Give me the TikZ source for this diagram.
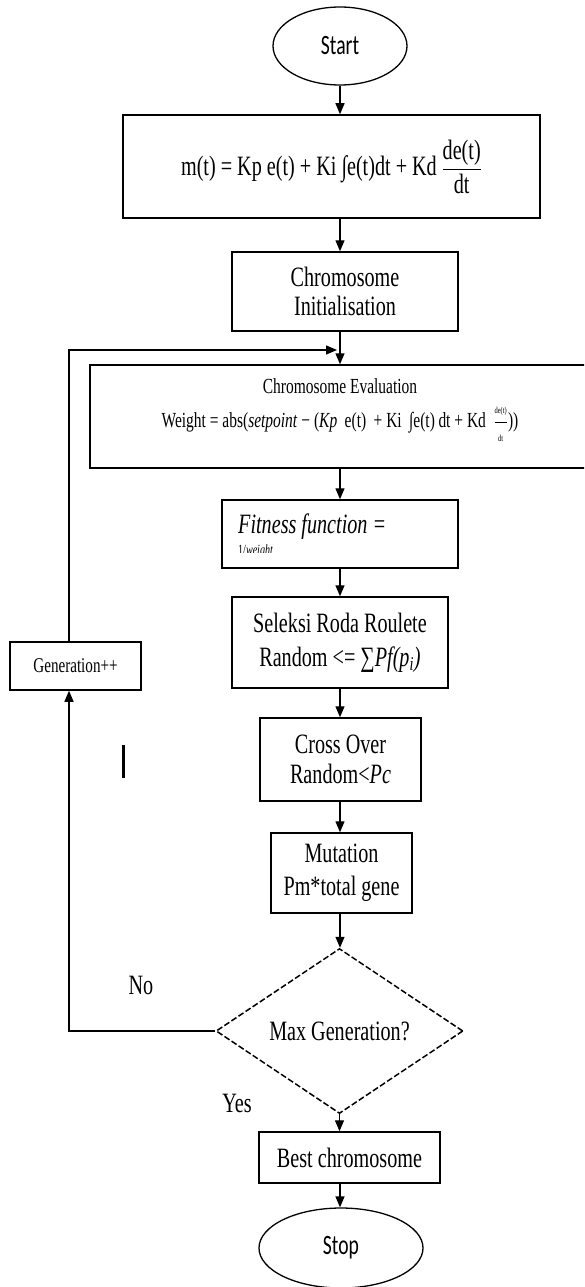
\documentclass[tikz,border=0pt]{standalone}
\usepackage{amsmath}
\usepackage{fontspec}
\setmainfont[FakeStretch=0.72]{Liberation Serif}
\newfontfamily\calfont[FakeStretch=0.7]{Carlito}
\usetikzlibrary{shapes.geometric,arrows.meta}
\begin{document}
\begin{tikzpicture}[x=1pt,y=-1pt,
  box/.style={draw, line width=1.5pt, rectangle, inner sep=0pt, align=center,
    font=\fontsize{28}{32}\selectfont},
  ell/.style={draw, line width=1.3pt, ellipse, inner sep=0pt,
    font=\calfont\fontsize{28}{32}\selectfont},
  arr/.style={line width=1.3pt, -{Triangle[length=11pt,width=9pt]}},
  decision/.style={draw, diamond, dash pattern=on 6pt off 2.5pt, line width=1.5pt,
    inner sep=0pt, font=\fontsize{28}{32}\selectfont},
  lbl/.style={inner sep=0pt, font=\fontsize{28}{32}\selectfont}]
\useasboundingbox (0,0) rectangle (584,1287);
\clip (0,0) rectangle (584,1287);

\coordinate (ax) at (340,0);

\node[ell, minimum width=134pt, minimum height=78pt] (start) at (340,46) {Start};

\node[box, minimum width=417pt, minimum height=103pt] (b1) at (331.5,166.5)
  {m(t) = Kp e(t) + Ki ∫e(t)dt + Kd\,$\dfrac{\mbox{\fontsize{28}{32}\selectfont de(t)}}{\mbox{\fontsize{28}{32}\selectfont dt}}$};

\node[box, minimum width=226pt, minimum height=79pt, font=\fontsize{28}{29}\selectfont] (b2) at (345,291.5)
  {Chromosome\\Initialisation};

\node[box, minimum width=500pt, minimum height=103pt] (b3) at (340,416.5) {};
\node[inner sep=0pt, align=center, font=\fontsize{21.5}{34}\selectfont] (b3t) at (340,410)
  {Chromosome Evaluation\\
   Weight = abs(\textit{setpoint} − (\textit{Kp}\, e(t)\, + Ki\, ∫e(t)\,dt + Kd\,
   $\dfrac{\mbox{\fontsize{9}{9}\selectfont de(t)}}{\mbox{\fontsize{9}{9}\selectfont dt}}$))};

\node[box, minimum width=236pt, minimum height=68pt] (b4) at (340,534) {};
\node[anchor=base west, inner sep=0pt, font=\itshape\fontsize{28}{32}\selectfont] (b4t) at (238,533)
  {Fitness function =};
\begin{scope}
  \clip (222,500) rectangle (458,552);
  \node[anchor=base west, inner sep=0pt, font=\fontsize{14}{14}\selectfont] (b4w) at (238,554)
    {1/\textit{weight}};
\end{scope}

\node[box, minimum width=216pt, minimum height=91pt, font=\fontsize{28}{34}\selectfont] (b5) at (340,642.5)
  {Seleksi Roda Roulete\\Random <= ∑\textit{Pf(p\textsubscript{i})}};

\node[box, minimum width=161pt, minimum height=83pt, font=\fontsize{28}{30}\selectfont] (b6) at (340.5,759.5)
  {Cross Over\\Random<\textit{Pc}};

\node[box, minimum width=141pt, minimum height=80pt, font=\fontsize{28}{33}\selectfont] (b7) at (341.5,873)
  {Mutation\\Pm*total gene};

\node[decision, minimum width=247pt, minimum height=165pt] (dec) at (339.5,1031)
  {Max Generation?};

\node[box, minimum width=181pt, minimum height=51pt] (best) at (349.5,1157.5)
  {Best chromosome};

\node[ell, minimum width=164pt, minimum height=80pt] (stop) at (341,1248) {Stop};

\node[box, minimum width=131pt, minimum height=48pt, font=\fontsize{21}{24}\selectfont] (gen) at (75.5,666)
  {Generation++};

\node[lbl] (no) at (141,985) {No};
\node[lbl] (yes) at (237,1103) {Yes};

% connectors
\draw[arr] (start.south) -- (start.south |- b1.north);
\draw[arr] (b1.south -| ax) -- (b2.north -| ax);
\draw[arr] (b2.south -| ax) -- (b3.north -| ax);
\draw[arr] (b3.south -| ax) -- (b4.north -| ax);
\draw[arr] (b4.south -| ax) -- (b5.north -| ax);
\draw[arr] (b5.south -| ax) -- (b6.north -| ax);
\draw[arr] (b6.south -| ax) -- (b7.north -| ax);
\draw[arr] (b7.south -| ax) -- (dec.north -| ax);
\draw[arr] (dec.south) -- (dec.south |- best.north);
\draw[arr] (best.south -| ax) -- (stop.north -| ax);

\coordinate (lc) at (69,350);
\coordinate (le) at (337,350);
\draw[arr] (dec.west) -| (gen.south -| lc);
\draw[arr] (gen.north -| lc) -- (lc) -- (le);

% stray bar
\draw[line width=3pt] (123,745) -- (123,778);
\end{tikzpicture}
\end{document}
